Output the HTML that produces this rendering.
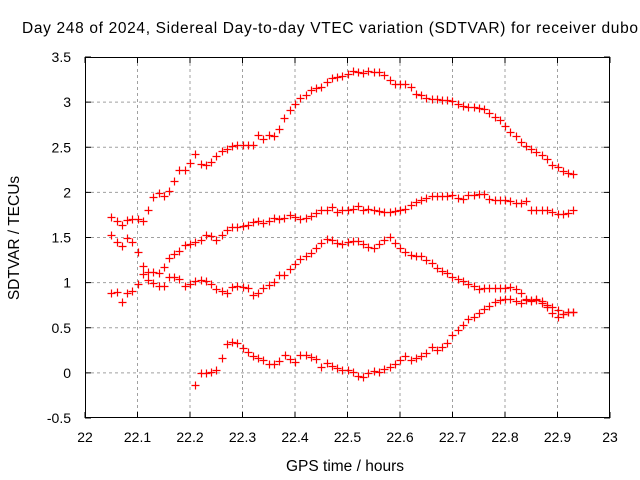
<!DOCTYPE html>
<html><head><meta charset="utf-8"><style>
html,body{margin:0;padding:0;background:#fff;overflow:hidden;}
svg{display:block;font-family:"Liberation Sans",sans-serif;}
</style></head><body>
<svg id="chart" width="640" height="480" viewBox="0 0 640 480">
<text x="22" y="33" font-size="15.5" text-anchor="start" textLength="616" lengthAdjust="spacing">Day 248 of 2024, Sidereal Day-to-day VTEC variation (SDTVAR) for receiver dubo</text>
<text x="19" y="238" font-size="15.5" text-anchor="middle" transform="rotate(-90 19 238)">SDTVAR / TECUs</text>
<text x="345" y="471" font-size="15.5" text-anchor="middle">GPS time / hours</text>
<g id="grid"></g>
<g id="axes"></g>
<g id="marks"></g>
</svg>
<script>
const xTicks=[22,22.1,22.2,22.3,22.4,22.5,22.6,22.7,22.8,22.9,23];
const xTickLabels=["22","22.1","22.2","22.3","22.4","22.5","22.6","22.7","22.8","22.9","23"];
const yTicks=[-0.5,0,0.5,1,1.5,2,2.5,3,3.5];
const yTickLabels=["-0.5","0","0.5","1","1.5","2","2.5","3","3.5"];
const seriesAStart=22.05;
const seriesA=[1.73,1.68,1.64,1.69,1.71,1.70,1.68,1.80,1.95,1.99,1.96,2.02,2.13,2.25,2.25,2.32,2.42,2.31,2.30,2.34,2.40,2.46,2.48,2.51,2.52,2.53,2.53,2.53,2.64,2.59,2.64,2.62,2.70,2.82,2.91,2.98,3.05,3.08,3.13,3.16,3.17,3.22,3.27,3.28,3.29,3.31,3.34,3.33,3.32,3.34,3.33,3.33,3.30,3.25,3.20,3.20,3.20,3.17,3.09,3.08,3.05,3.04,3.03,3.02,3.02,3.01,2.98,2.96,2.95,2.95,2.94,2.92,2.88,2.83,2.80,2.74,2.67,2.63,2.56,2.51,2.48,2.45,2.41,2.37,2.30,2.28,2.24,2.21,2.20];
const seriesBStart=22.05;
const seriesB=[1.53,1.45,1.41,1.49,1.45,1.34,1.18,1.12,1.12,1.11,1.17,1.27,1.32,1.35,1.42,1.43,1.45,1.47,1.53,1.52,1.47,1.53,1.58,1.62,1.62,1.63,1.64,1.67,1.68,1.66,1.68,1.72,1.71,1.72,1.75,1.73,1.71,1.72,1.74,1.77,1.81,1.81,1.84,1.78,1.80,1.81,1.82,1.85,1.81,1.82,1.81,1.79,1.78,1.78,1.79,1.81,1.82,1.86,1.89,1.92,1.94,1.96,1.96,1.96,1.96,1.97,1.94,1.93,1.97,1.97,1.98,1.98,1.93,1.92,1.91,1.91,1.90,1.88,1.88,1.90,1.81,1.81,1.81,1.80,1.78,1.76,1.76,1.77,1.80];
const seriesCStart=22.05;
const seriesC=[0.89,0.90,0.79,0.88,0.91,0.98,1.10,1.03,1.00,0.96,0.96,1.06,1.06,1.04,0.96,0.98,1.02,1.03,1.02,0.99,0.93,0.91,0.88,0.95,0.96,0.95,0.94,0.86,0.88,0.94,0.97,1.01,1.08,1.08,1.15,1.21,1.26,1.29,1.33,1.38,1.44,1.48,1.47,1.44,1.43,1.45,1.46,1.46,1.43,1.40,1.38,1.43,1.47,1.51,1.44,1.38,1.34,1.31,1.30,1.29,1.25,1.22,1.16,1.13,1.11,1.06,1.04,1.02,0.99,0.96,0.93,0.94,0.94,0.94,0.94,0.94,0.95,0.93,0.88,0.82,0.80,0.81,0.80,0.75,0.73,0.70,0.65,0.67,0.68];
const seriesDStart=22.21;
const seriesD=[-0.13,0.00,0.00,0.01,0.03,0.16,0.32,0.34,0.33,0.28,0.23,0.19,0.16,0.14,0.10,0.10,0.13,0.20,0.15,0.12,0.20,0.20,0.18,0.15,0.07,0.11,0.08,0.05,0.03,0.03,0.01,-0.03,-0.05,0.00,0.02,0.01,0.04,0.07,0.10,0.14,0.19,0.14,0.16,0.19,0.22,0.29,0.25,0.29,0.33,0.42,0.48,0.53,0.60,0.62,0.66,0.71,0.74,0.78,0.81,0.82,0.82,0.80,0.77,0.81,0.81,0.82,0.77,0.73,0.66,0.62,0.65,0.67,0.67];
const step=0.01;

const L=85,R=610,T=57,B=418;
const xMin=22,xMax=23,yMin=-0.5,yMax=3.5;
function sx(v){return L+(v-xMin)/(xMax-xMin)*(R-L);}
function sy(v){return B-(v-yMin)/(yMax-yMin)*(B-T);}
const NS="http://www.w3.org/2000/svg";
function mk(tag,attrs,parent){const e=document.createElementNS(NS,tag);for(const k in attrs)e.setAttribute(k,attrs[k]);parent.appendChild(e);return e;}
const grid=document.getElementById('grid'),axes=document.getElementById('axes'),marks=document.getElementById('marks');

xTicks.forEach((t,i)=>{
  const x=sx(t);
  if(i>0&&i<xTicks.length-1){
    const g=mk('line',{x1:x,x2:x,y1:T,y2:B,stroke:'#a0a0a0','stroke-width':1,'stroke-dasharray':'3,3'},grid);
    
    
  }
  const t1=mk('line',{x1:x,x2:x,y1:B,y2:B-6,stroke:'#000'},axes);
  
  
  const t2=mk('line',{x1:x,x2:x,y1:T,y2:T+6,stroke:'#000'},axes);
  
  
  const lb=mk('text',{x:x,y:442,'font-size':14,'text-anchor':'middle'},axes);
  lb.textContent=xTickLabels[i];
  
  
});
yTicks.forEach((t,i)=>{
  const y=sy(t);
  if(i>0&&i<yTicks.length-1){
    const g=mk('line',{x1:L,x2:R,y1:y,y2:y,stroke:'#a0a0a0','stroke-width':1,'stroke-dasharray':'3,3'},grid);
    
    
  }
  const t1=mk('line',{x1:L,x2:L+6,y1:y,y2:y,stroke:'#000'},axes);
  
  
  const t2=mk('line',{x1:R,x2:R-6,y1:y,y2:y,stroke:'#000'},axes);
  
  
  const lb=mk('text',{x:71,y:y+5,'font-size':14,'text-anchor':'end'},axes);
  lb.textContent=yTickLabels[i];
  
  
});
const frame=mk('rect',{x:L+0.5,y:T+0.5,width:R-L-1,height:B-T-1,fill:'none',stroke:'#000'},axes);



function drawSeries(start,vals,name){
  const g=mk('g',{},marks);
  
  
  vals.forEach((v,i)=>{
    const x=Math.round(sx(start+i*step))+0.5,y=Math.round(sy(v))+0.5;
    const p=mk('path',{d:`M${x-4} ${y}H${x+4}M${x} ${y-4}V${y+4}`,stroke:'#f00','stroke-width':1.2,fill:'none'},g);
    
    
  });
}
drawSeries(seriesAStart,seriesA,'series-a');
drawSeries(seriesBStart,seriesB,'series-b');
drawSeries(seriesCStart,seriesC,'series-c');
drawSeries(seriesDStart,seriesD,'series-d');
</script>
</body></html>
